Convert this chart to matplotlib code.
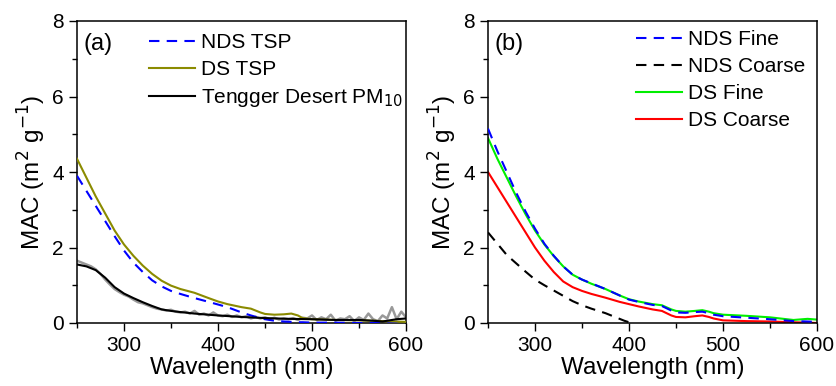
import matplotlib.pyplot as plt
from matplotlib.ticker import MultipleLocator

plt.rcParams['font.family'] = ['Liberation Sans', 'DejaVu Sans']

# Panel (a) data
wl_a = [250, 260, 270, 280, 290, 300, 310, 320, 330, 340, 350, 360, 375, 390, 400,
        410, 425, 435, 445, 450, 460, 470, 478, 485, 490, 500, 525, 550, 575, 600]
nds_tsp = [3.9, 3.5, 3.1, 2.7, 2.3, 1.92, 1.6, 1.35, 1.13, 0.97, 0.85, 0.77, 0.66, 0.56, 0.49,
           0.42, 0.28, 0.2, 0.13, 0.1, 0.06, 0.04, 0.03, 0.02, 0.02, 0.01, 0.01, 0.0, 0.0, 0.0]
ds_tsp = [4.35, 3.85, 3.35, 2.9, 2.45, 2.08, 1.78, 1.52, 1.3, 1.12, 0.99, 0.9, 0.8, 0.66, 0.57,
          0.5, 0.42, 0.38, 0.28, 0.24, 0.22, 0.23, 0.25, 0.2, 0.13, 0.1, 0.08, 0.07, 0.05, 0.03]

wl_t = [250, 260, 270, 280, 290, 300, 310, 320, 330, 340, 350, 360, 375, 390, 400,
        425, 450, 475, 500, 525, 550, 565, 575, 590, 600]
tengger = [1.55, 1.5, 1.4, 1.2, 0.95, 0.78, 0.66, 0.55, 0.45, 0.36, 0.32, 0.29, 0.25, 0.22, 0.2,
           0.16, 0.13, 0.11, 0.1, 0.08, 0.08, 0.06, 0.04, 0.1, 0.12]

# raw (noisy) Tengger spectrum, shown in grey
wl_raw = list(range(250, 601, 5))
tengger_raw = [1.65, 1.6, 1.55, 1.5, 1.42, 1.3, 1.15, 1.02, 0.9, 0.82, 0.75, 0.7, 0.62, 0.55,
               0.52, 0.47, 0.42, 0.38, 0.36, 0.33, 0.35, 0.3, 0.28, 0.3, 0.25, 0.32, 0.22, 0.25,
               0.2, 0.28, 0.2, 0.18, 0.22, 0.16, 0.2, 0.15, 0.18, 0.12, 0.16, 0.12, 0.15, 0.1,
               0.14, 0.09, 0.12, 0.1, 0.13, 0.08, 0.14, 0.12, 0.2, 0.08, 0.15, 0.1, 0.22, 0.06,
               0.12, 0.1, 0.18, 0.05, 0.15, 0.08, 0.25, 0.1, 0.05, 0.2, 0.12, 0.42, 0.1, 0.3, 0.15]

# Panel (b) data
wl_b = [250, 260, 270, 280, 290, 300, 310, 320, 330, 340, 350, 360, 375, 390, 400,
        410, 425, 435, 445, 450, 460, 470, 478, 485, 490, 500, 525, 550, 575, 590, 600]
nds_fine = [5.15, 4.55, 4.0, 3.45, 2.95, 2.5, 2.1, 1.78, 1.5, 1.28, 1.15, 1.05, 0.9, 0.73, 0.62,
            0.56, 0.48, 0.45, 0.33, 0.28, 0.27, 0.29, 0.3, 0.26, 0.22, 0.18, 0.14, 0.1, 0.05, 0.04, 0.03]
ds_fine = [4.9, 4.35, 3.85, 3.35, 2.88, 2.45, 2.08, 1.77, 1.5, 1.28, 1.15, 1.04, 0.9, 0.73, 0.63,
           0.57, 0.5, 0.47, 0.36, 0.32, 0.3, 0.32, 0.34, 0.3, 0.26, 0.22, 0.19, 0.15, 0.08, 0.11, 0.09]
ds_coarse = [4.0, 3.6, 3.2, 2.8, 2.4, 2.0, 1.65, 1.35, 1.1, 0.95, 0.85, 0.77, 0.67, 0.56, 0.5,
             0.44, 0.36, 0.32, 0.2, 0.16, 0.15, 0.18, 0.2, 0.16, 0.12, 0.07, 0.05, 0.04, 0.02, 0.01, 0.0]
wl_nc = [250, 260, 270, 280, 290, 300, 310, 320, 330, 340, 350, 360, 375, 385, 395, 400]
nds_coarse = [2.4, 2.1, 1.8, 1.58, 1.36, 1.15, 1.0, 0.86, 0.72, 0.58, 0.47, 0.38, 0.26, 0.16, 0.06, 0.02]

fig = plt.figure(figsize=(8.37, 3.86), dpi=100)
ax1 = fig.add_axes([77 / 837, 1 - 323 / 386, 329 / 837, 302 / 386])
ax2 = fig.add_axes([488 / 837, 1 - 323 / 386, 329 / 837, 302 / 386])

ax1.plot(wl_raw, tengger_raw, color='#999999', lw=1.8, zorder=1)
ax1.plot(wl_a, nds_tsp, color='#0000ff', lw=1.5, ls=(0, (5, 3.5)), label='NDS TSP', zorder=3)
ax1.plot(wl_a, ds_tsp, color='#8b8b00', lw=1.5, label='DS TSP', zorder=3)
ax1.plot(wl_t, tengger, color='black', lw=1.5, label='Tengger Desert PM$_{10}$', zorder=4)

ax2.plot(wl_b, nds_fine, color='#0000ff', lw=1.5, ls=(0, (5, 3.5)), label='NDS Fine', zorder=3)
ax2.plot(wl_nc, nds_coarse, color='black', lw=1.5, ls=(0, (5, 3.5)), label='NDS Coarse')
ax2.plot(wl_b, ds_fine, color='#00ee00', lw=1.5, label='DS Fine', zorder=2)
ax2.plot(wl_b, ds_coarse, color='#ff0000', lw=1.5, label='DS Coarse')

for ax, tag, anchor in [(ax1, '(a)', (0.18, 1.0)), (ax2, '(b)', (0.412, 1.01))]:
    ax.set_xlim(250, 600)
    ax.set_ylim(0, 8)
    ax.xaxis.set_major_locator(MultipleLocator(100))
    ax.xaxis.set_minor_locator(MultipleLocator(50))
    ax.yaxis.set_major_locator(MultipleLocator(2))
    ax.yaxis.set_minor_locator(MultipleLocator(1))
    ax.tick_params(which='major', direction='out', length=6, width=1, labelsize=15)
    ax.tick_params(which='minor', direction='out', length=3.5, width=1)
    ax.set_xticks([300, 400, 500, 600])
    for s in ax.spines.values():
        s.set_linewidth(1.1)
    ax.set_xlabel('Wavelength (nm)', fontsize=17.5, labelpad=1)
    ax.set_ylabel('MAC (m$^2$ g$^{-1}$)', fontsize=17.5, labelpad=3)
    ax.text(0.02, 0.96, tag, transform=ax.transAxes, fontsize=17, va='top', ha='left')
    ax.legend(loc='upper left', bbox_to_anchor=anchor, frameon=False, fontsize=15,
              handlelength=2.2, handletextpad=0.3, labelspacing=0.38, borderaxespad=0.3,
              borderpad=0.3)

fig.savefig('out.png', dpi=100)
